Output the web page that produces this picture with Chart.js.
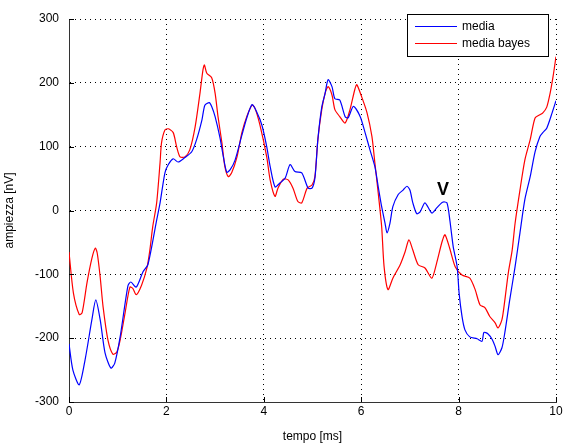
<!DOCTYPE html>
<html>
<head>
<meta charset="utf-8">
<script src="https://cdn.jsdelivr.net/npm/chart.js@4"></script>
<style>
  html, body { margin: 0; padding: 0; background: #fff; }
  #wrap { width: 568px; height: 446px; }
</style>
</head>
<body>
<div id="wrap"><canvas id="myChart" width="568" height="446"></canvas></div>
<script>
// tempo [ms] / ampiezza [nV]
let tempoMedia = [0, 0.08, 0.21, 0.33, 0.47, 0.55, 0.64, 0.74, 0.86, 0.94, 1.05, 1.21, 1.27, 1.38, 1.52, 1.62, 1.8, 1.87, 1.97, 2.04,
    2.14, 2.24, 2.38, 2.52, 2.62, 2.73, 2.79, 2.88, 2.93, 3.0, 3.1, 3.17, 3.24, 3.31, 3.41, 3.55, 3.65, 3.76, 3.85, 3.96,
    4.06, 4.13, 4.23, 4.33, 4.44, 4.54, 4.64, 4.78, 4.91, 4.99, 5.05, 5.11, 5.19, 5.26, 5.32, 5.4, 5.46, 5.56, 5.67, 5.73,
    5.84, 5.98, 6.08, 6.18, 6.28, 6.35, 6.42, 6.49, 6.53, 6.59, 6.65, 6.76, 6.86, 6.94, 7.0, 7.06, 7.14, 7.21, 7.31, 7.45,
    7.55, 7.67, 7.76, 7.82, 7.89, 7.97, 8.01, 8.07, 8.13, 8.23, 8.38, 8.48, 8.52, 8.6, 8.69, 8.75, 8.81, 8.89, 8.95, 9.05,
    9.16, 9.26, 9.36, 9.47, 9.57, 9.67, 9.73, 9.81, 9.92, 10.0];
let media = [-209, -250, -273, -234, -171, -140, -171, -223, -247, -239, -198, -118, -112, -120, -96, -85, -15, 12, 59, 72,
    81, 76, 83, 92, 111, 142, 165, 169, 163, 147, 114, 84, 60, 64, 79, 118, 145, 166, 155, 134,
    100, 69, 37, 43, 51, 72, 61, 59, 35, 35, 51, 111, 162, 184, 205, 194, 175, 173, 147, 145,
    163, 147, 122, 95, 69, 37, 6, -20, -35, -20, 6, 25, 32, 38, 32, 12, -5, -2, 12, -4,
    4, 13, 12, -15, -57, -88, -129, -166, -187, -198, -201, -205, -191, -193, -202, -213, -226, -215, -191, -140,
    -88, -35, 17, 53, 92, 116, 122, 129, 153, 172];

let tempoBayes = [0, 0.09, 0.21, 0.27, 0.37, 0.47, 0.54, 0.58, 0.64, 0.7, 0.8, 0.9, 0.98, 1.05, 1.15, 1.25, 1.31, 1.38, 1.49, 1.6,
    1.66, 1.72, 1.8, 1.87, 1.9, 1.97, 2.04, 2.14, 2.21, 2.28, 2.38, 2.48, 2.59, 2.69, 2.75, 2.78, 2.83, 2.93, 3.0, 3.06,
    3.14, 3.2, 3.27, 3.34, 3.45, 3.55, 3.65, 3.76, 3.82, 3.92, 4.06, 4.13, 4.23, 4.29, 4.4, 4.5, 4.6, 4.7, 4.78, 4.89,
    4.99, 5.05, 5.11, 5.19, 5.26, 5.32, 5.4, 5.46, 5.56, 5.67, 5.77, 5.87, 5.91, 6.01, 6.12, 6.22, 6.28, 6.35, 6.42, 6.47,
    6.55, 6.65, 6.8, 6.9, 6.98, 7.06, 7.17, 7.31, 7.45, 7.55, 7.66, 7.72, 7.82, 7.93, 8.07, 8.23, 8.34, 8.44, 8.54, 8.64,
    8.75, 8.81, 8.89, 8.95, 9.02, 9.1, 9.16, 9.26, 9.36, 9.47, 9.57, 9.67, 9.73, 9.81, 9.88, 9.94, 10.0];
let mediaBayes = [-65, -129, -163, -160, -113, -75, -59, -67, -104, -151, -203, -225, -222, -203, -161, -120, -122, -132, -117, -90,
    -62, -25, 12, 75, 106, 126, 128, 122, 100, 84, 84, 95, 131, 184, 220, 228, 215, 208, 184, 147,
    106, 69, 53, 59, 84, 122, 147, 165, 160, 134, 84, 48, 22, 35, 49, 48, 35, 14, 12, 35,
    40, 53, 111, 158, 184, 194, 181, 158, 147, 137, 158, 190, 197, 178, 153, 116, 75, 27, -25, -88,
    -124, -106, -85, -65, -46, -62, -85, -90, -106, -82, -49, -38, -60, -88, -101, -106, -124, -148, -152, -166,
    -176, -184, -171, -140, -98, -62, -20, 32, 79, 111, 145, 150, 153, 162, 184, 210, 241];

let xTicks = [0, 2, 4, 6, 8, 10];
let yTicks = [-300, -200, -100, 0, 100, 200, 300];

// peak V of the averaged response
let peakLabel = 'V';
let peakAt = [7.68, 32];

const font = { family: 'Liberation Sans, Arial, sans-serif', size: 12 };

function toPoints(xs, ys) {
    return xs.map((x, i) => ({ x: x, y: ys[i] }));
}

// inward tick marks on the left and bottom axes (like MATLAB)
const innerTicks = {
    id: 'innerTicks',
    afterDatasetsDraw(chart) {
        const { ctx, chartArea, scales } = chart;
        ctx.save();
        ctx.strokeStyle = '#000';
        ctx.lineWidth = 1;
        ctx.beginPath();
        xTicks.forEach(v => {
            let px = Math.round(scales.x.getPixelForValue(v)) + 0.5;
            ctx.moveTo(px, chartArea.bottom);
            ctx.lineTo(px, chartArea.bottom - 5);
        });
        yTicks.forEach(v => {
            let py = Math.round(scales.y.getPixelForValue(v)) + 0.5;
            ctx.moveTo(chartArea.left, py);
            ctx.lineTo(chartArea.left + 5, py);
        });
        ctx.stroke();
        ctx.restore();
    }
};

// boxed legend in the top right corner + the peak label
const boxLegend = {
    id: 'boxLegend',
    afterDraw(chart) {
        const { ctx, scales } = chart;
        ctx.save();

        ctx.font = 'bold 18px Liberation Sans, Arial, sans-serif';
        ctx.fillStyle = '#000';
        ctx.textAlign = 'center';
        ctx.textBaseline = 'middle';
        ctx.fillText(peakLabel, scales.x.getPixelForValue(peakAt[0]), scales.y.getPixelForValue(peakAt[1]));

        let bx = 407.5, by = 14.5, bw = 141, bh = 42;
        ctx.fillStyle = '#fff';
        ctx.fillRect(bx, by, bw, bh);
        ctx.strokeStyle = '#000';
        ctx.lineWidth = 1;
        ctx.strokeRect(bx, by, bw, bh);

        ctx.font = '12px Liberation Sans, Arial, sans-serif';
        ctx.textAlign = 'left';
        chart.data.datasets.forEach((ds, i) => {
            let ly = 26.5 + i * 17;
            ctx.strokeStyle = ds.borderColor;
            ctx.beginPath();
            ctx.moveTo(415, ly);
            ctx.lineTo(457, ly);
            ctx.stroke();
            ctx.fillStyle = '#000';
            ctx.fillText(ds.label, 462, ly);
        });
        ctx.restore();
    }
};

let ctx = document.getElementById('myChart').getContext('2d');

let myChart = new Chart(ctx, {
    type: 'line',
    data: {
        datasets: [{
            label: 'media',
            data: toPoints(tempoMedia, media),
            borderColor: '#0000ff',
            borderWidth: 1.2,
            pointRadius: 0,
            tension: 0.25
        },
        {
            label: 'media bayes',
            data: toPoints(tempoBayes, mediaBayes),
            borderColor: '#ff0000',
            borderWidth: 1.2,
            pointRadius: 0,
            tension: 0.25
        }]
    },
    plugins: [innerTicks, boxLegend],
    options: {
        responsive: false,
        animation: false,
        layout: { padding: { top: 19, right: 12, left: 0, bottom: 0 } },
        plugins: {
            legend: { display: false },
            tooltip: { enabled: false }
        },
        scales: {
            x: {
                type: 'linear',
                min: 0,
                max: 10,
                afterBuildTicks: s => { s.ticks = xTicks.map(v => ({ value: v })); },
                afterFit: s => { s.height = 44; },
                ticks: { color: '#000', font: font, padding: 2, maxRotation: 0 },
                grid: { color: '#000', lineWidth: 1, drawTicks: false },
                border: { color: '#333', dash: [1, 4], display: true },
                title: { display: true, text: 'tempo [ms]', color: '#000', font: font, padding: { top: 4, bottom: 2 } }
            },
            y: {
                min: -300,
                max: 300,
                afterBuildTicks: s => { s.ticks = yTicks.map(v => ({ value: v })); },
                afterFit: s => { s.width = 69; },
                ticks: { color: '#000', font: font, padding: 10 },
                grid: { color: '#000', lineWidth: 1, drawTicks: false },
                border: { color: '#333', dash: [1, 4], display: true },
                title: { display: true, text: 'ampiezza [nV]', color: '#000', font: font, padding: 2 }
            }
        }
    }
});
</script>
</body>
</html>
